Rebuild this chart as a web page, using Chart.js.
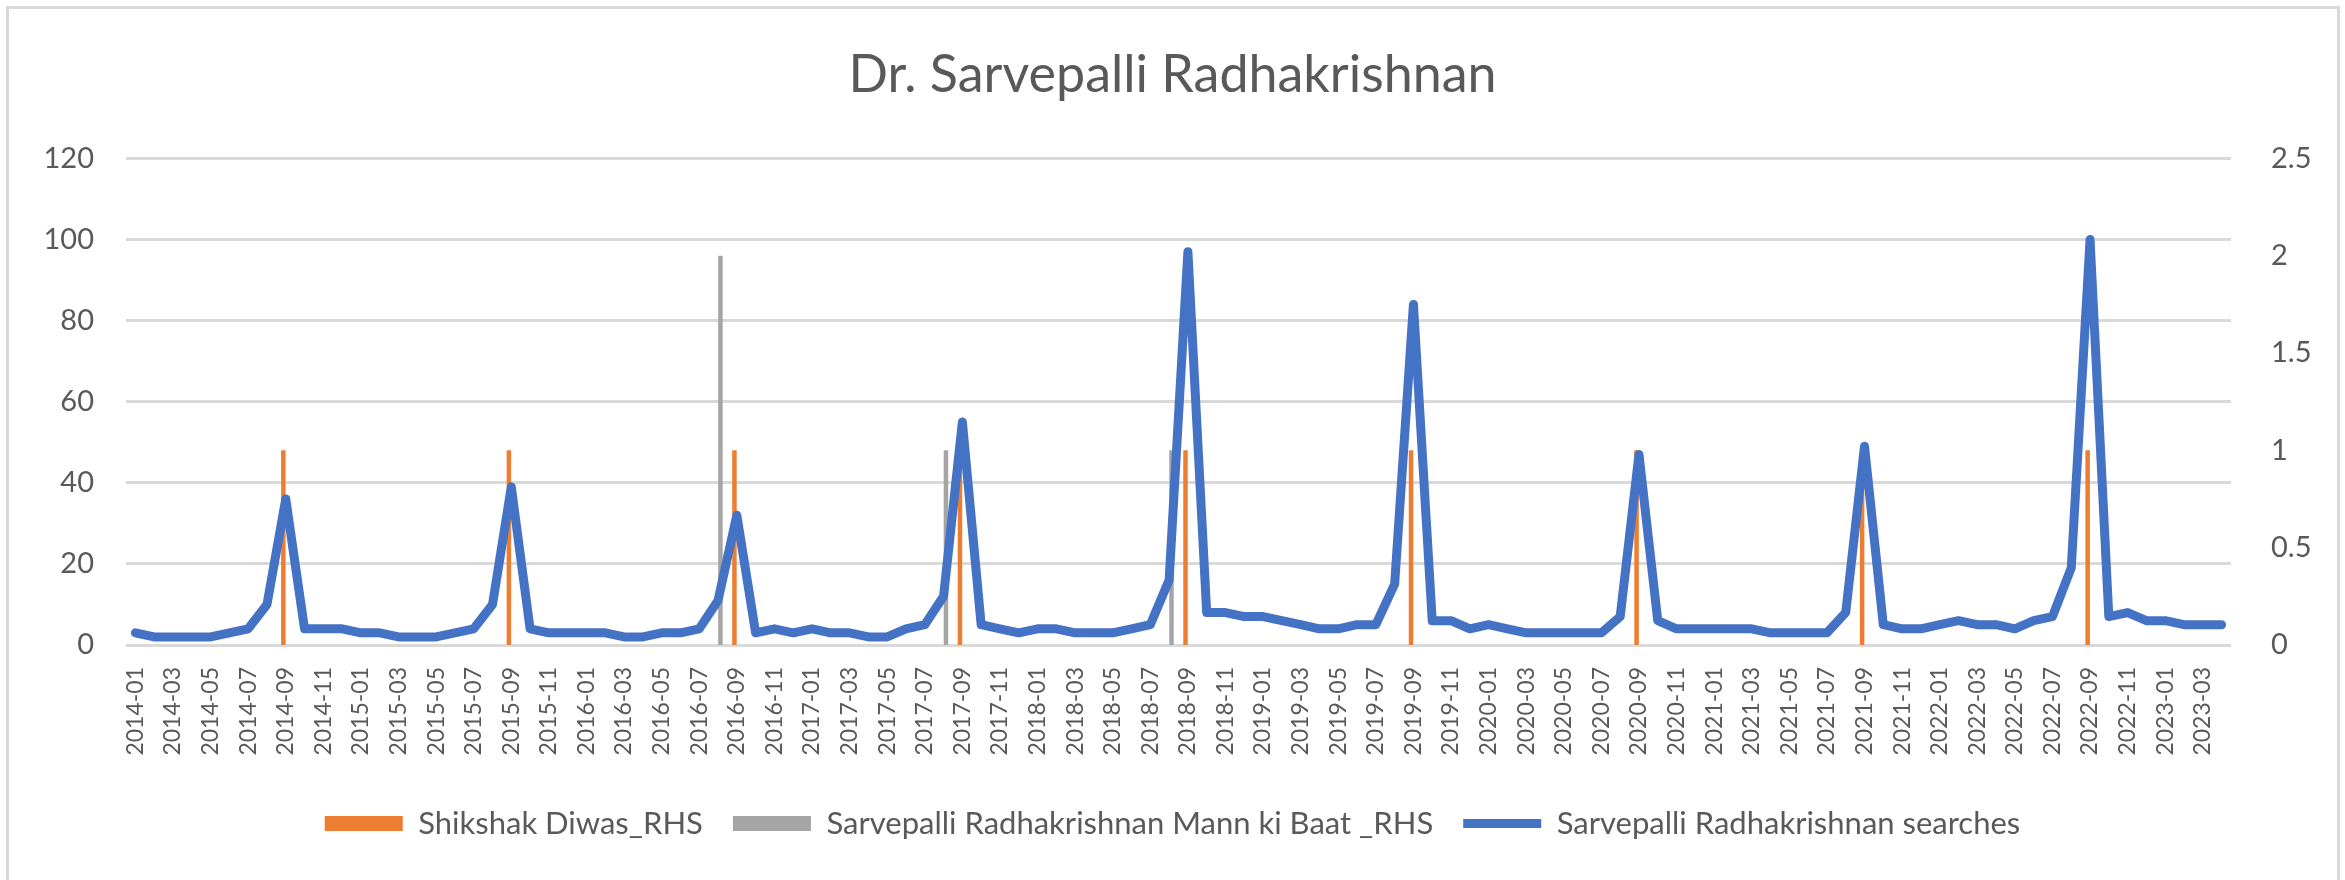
<!DOCTYPE html>
<html>
<head>
<meta charset="utf-8">
<title>Dr. Sarvepalli Radhakrishnan</title>
<script src="https://cdn.jsdelivr.net/npm/chart.js@4.4.0/dist/chart.umd.min.js"></script>
<style>
  html, body { margin: 0; padding: 0; background: #fff; overflow: hidden; }
  .frame { position: absolute; left: 6px; top: 6px; width: 2328px; height: 900px; border: 3px solid #d9d9d9; border-bottom: none; }
  #srChart { position: absolute; left: 0; top: 0; }
</style>
</head>
<body>
<div class="frame"></div>
<canvas id="srChart" width="2345" height="880"></canvas>
<script>
// months on the category axis, 2014-01 .. 2023-04
const months = [];
for (let y = 2014; y <= 2023; y++) {
  for (let m = 1; m <= 12; m++) {
    if (y === 2023 && m > 4) break;
    months.push(y + '-' + String(m).padStart(2, '0'));
  }
}

// search interest, left axis
const searches = [
  3, 2, 2, 2, 2, 3, 4, 10, 36, 4, 4, 4,      // 2014
  3, 3, 2, 2, 2, 3, 4, 10, 39, 4, 3, 3,      // 2015
  3, 3, 2, 2, 3, 3, 4, 11, 32, 3, 4, 3,      // 2016
  4, 3, 3, 2, 2, 4, 5, 12, 55, 5, 4, 3,      // 2017
  4, 4, 3, 3, 3, 4, 5, 16, 97, 8, 8, 7,      // 2018
  7, 6, 5, 4, 4, 5, 5, 15, 84, 6, 6, 4,      // 2019
  5, 4, 3, 3, 3, 3, 3, 7, 47, 6, 4, 4,       // 2020
  4, 4, 4, 3, 3, 3, 3, 8, 49, 5, 4, 4,       // 2021
  5, 6, 5, 5, 4, 6, 7, 19, 100, 7, 8, 6,     // 2022
  6, 5, 5, 5                                 // 2023
];

// event markers, right axis
const shikshakMonths = ['2014-09', '2015-09', '2016-09', '2017-09', '2018-09', '2019-09', '2020-09', '2021-09', '2022-09'];
const shikshakValues = [1, 1, 1, 1, 1, 1, 1, 1, 1];
const mannKiBaatMonths = ['2016-08', '2017-08', '2018-08'];
const mannKiBaatValues = [2, 1, 1];

function spread(eventMonths, eventValues) {
  return months.map(function(m) {
    const i = eventMonths.indexOf(m);
    return i === -1 ? null : eventValues[i];
  });
}

Chart.defaults.font.family = 'Lato, "Open Sans", sans-serif';
Chart.defaults.color = '#595959';

let ctx = document.getElementById('srChart');

let data = {
  labels: months,
  datasets: [{
    type: 'bar',
    label: 'Shikshak Diwas_RHS',
    data: spread(shikshakMonths, shikshakValues),
    backgroundColor: '#ED7D31',
    yAxisID: 'y1',
    order: 2,
    categoryPercentage: 0.51,
    barPercentage: 0.94,
    pointStyle: 'rect'
  }, {
    type: 'bar',
    label: 'Sarvepalli Radhakrishnan Mann ki Baat _RHS',
    data: spread(mannKiBaatMonths, mannKiBaatValues),
    backgroundColor: '#A5A5A5',
    yAxisID: 'y1',
    order: 3,
    categoryPercentage: 0.51,
    barPercentage: 0.94,
    pointStyle: 'rect'
  }, {
    type: 'line',
    label: 'Sarvepalli Radhakrishnan searches',
    data: searches,
    borderColor: '#4472C4',
    backgroundColor: '#4472C4',
    borderWidth: 9,
    borderJoinStyle: 'round',
    borderCapStyle: 'round',
    pointRadius: 0,
    tension: 0,
    yAxisID: 'y',
    order: 1,
    pointStyle: 'line'
  }]
};

let options = {
  responsive: false,
  animation: false,
  layout: { padding: { left: 0, right: 0, top: 0, bottom: 31 } },
  plugins: {
    title: {
      display: true,
      text: 'Dr. Sarvepalli Radhakrishnan',
      font: { size: 52, weight: 'normal' },
      color: '#595959',
      padding: { top: 44, bottom: 52 }
    },
    legend: {
      display: true,
      position: 'bottom',
      labels: {
        usePointStyle: true,
        pointStyleWidth: 78,
        boxHeight: 15,
        padding: 30,
        font: { size: 31 },
        color: '#595959',
        sort: function(a, b) { return a.datasetIndex - b.datasetIndex; }
      }
    },
    tooltip: { enabled: false }
  },
  scales: {
    x: {
      grid: { display: false, drawTicks: false },
      border: { display: false },
      ticks: {
        autoSkip: false,
        minRotation: 90,
        maxRotation: 90,
        padding: 22,
        font: { size: 23 },
        callback: function(value, index) {
          return index % 2 === 0 ? this.getLabelForValue(value) : '';
        }
      },
      afterFit: function(scale) { scale.height = 133; }
    },
    y: {
      position: 'left',
      min: 0,
      max: 120,
      ticks: { stepSize: 20, padding: 32, font: { size: 29 } },
      grid: { color: '#d9d9d9', lineWidth: 3, drawTicks: false },
      border: { display: false },
      afterFit: function(scale) { scale.width = 126; }
    },
    y1: {
      position: 'right',
      min: 0,
      max: 2.5,
      ticks: {
        stepSize: 0.5,
        padding: 40,
        font: { size: 29 },
        callback: function(value) { return String(value); }
      },
      grid: { display: false, drawTicks: false },
      border: { display: false },
      afterFit: function(scale) { scale.width = 114; }
    }
  }
};

let srChart = new Chart(ctx, {
  type: 'bar',
  data: data,
  options: options
});
</script>
</body>
</html>
